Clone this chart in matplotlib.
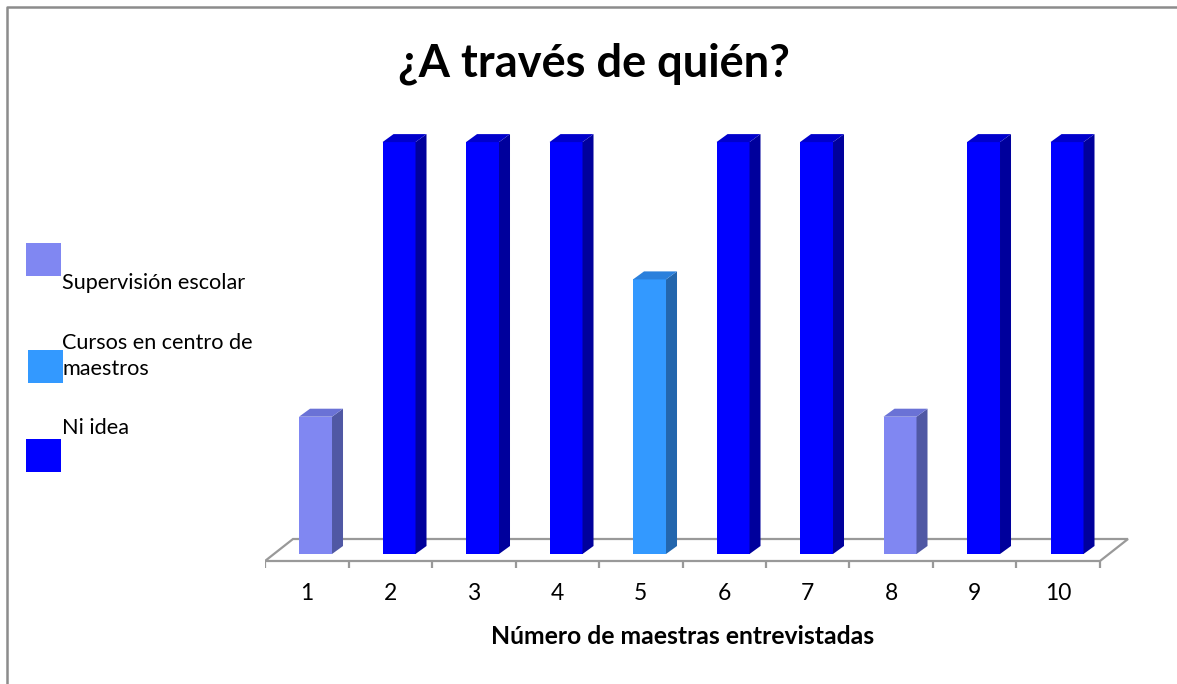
import matplotlib
matplotlib.use("Agg")
import matplotlib.pyplot as plt
from matplotlib.patches import Polygon, Rectangle
from matplotlib.lines import Line2D
import numpy as np

W, H = 1177, 684

# respuestas de cada maestra entrevistada
maestras = [1, 2, 3, 4, 5, 6, 7, 8, 9, 10]
respuestas = ["Supervisión escolar", "Ni idea", "Ni idea", "Ni idea",
              "Cursos en centro de maestros", "Ni idea", "Ni idea",
              "Supervisión escolar", "Ni idea", "Ni idea"]
valores = [1, 3, 3, 3, 2, 3, 3, 1, 3, 3]

series = ["Supervisión escolar", "Cursos en centro de maestros", "Ni idea"]
etiquetas = ["Supervisión escolar", "Cursos en centro de\nmaestros", "Ni idea"]

# frente, lado, tapa
colores = {
    "Supervisión escolar": ("#8087f2", "#5058a4", "#6a72d6"),
    "Cursos en centro de maestros": ("#3399ff", "#2366ad", "#2b80dc"),
    "Ni idea": ("#0000ff", "#00009c", "#0000cc"),
}

FONT = ["Lato", "DejaVu Sans"]
plt.rcParams["font.family"] = FONT

fig = plt.figure(figsize=(W / 100, H / 100), dpi=100)

# escala: 83.5 px por categoria, 137.3 px por unidad
sx, sy = 83.5, 137.3
x_lo, x_hi = 0.5, 10.9
y_lo, y_hi = -0.125, 3.25
left_px, base_px = 265, 554
bot_px = base_px - y_lo * sy
top_px = base_px - y_hi * sy
ax = fig.add_axes([left_px / W, 1 - bot_px / H,
                   (x_hi - x_lo) * sx / W, (bot_px - top_px) / H])
ax.set_xlim(x_lo, x_hi)
ax.set_ylim(y_lo, y_hi)
ax.axis("off")

# piso en perspectiva
fy, by = -7 / sy, 15 / sy
ddx = 28 / sx
piso = Polygon([(0.5, fy), (10.5, fy), (10.5 + ddx, by), (0.5 + ddx, by)],
               closed=True, fill=False, edgecolor="#999999", lw=1.6, zorder=1)
ax.add_patch(piso)
ax.vlines(np.arange(0.5, 11.0, 1.0), -14 / sy, fy, color="#999999", lw=1.6,
          zorder=1)
for m in maestras:
    ax.text(m, -40 / sy, str(m), ha="center", va="center", fontsize=16.5,
            color="#000000")

# barras 3D
off, ancho = 0.105, 0.395
pdx, pdy = 11 / sx, 8 / sy
x = np.array(maestras, dtype=float) + off
frentes = [colores[r][0] for r in respuestas]
ax.bar(x, valores, width=ancho, color=frentes, edgecolor="none", zorder=3)
for xi, v, r in zip(x, valores, respuestas):
    _, lado, tapa = colores[r]
    l, rr = xi - ancho / 2, xi + ancho / 2
    ax.add_patch(Polygon([(rr, 0), (rr + pdx, pdy), (rr + pdx, v + pdy), (rr, v)],
                         closed=True, facecolor=lado, edgecolor="none", zorder=3))
    ax.add_patch(Polygon([(l, v), (rr, v), (rr + pdx, v + pdy), (l + pdx, v + pdy)],
                         closed=True, facecolor=tapa, edgecolor="none", zorder=3))

# titulo y eje
fig.text(594 / W, 1 - 64 / H, "¿A través de quién?", ha="center", va="center",
         fontsize=32.5, fontweight="bold")
fig.text(683 / W, 1 - 637 / H, "Número de maestras entrevistadas", ha="center",
         va="center", fontsize=17.8, fontweight="bold")

# leyenda
cuadros = [(26, 243), (28, 350), (26, 439)]
textos = [(62, 283), (62, 356), (62, 428)]
for s, lab, (cx, cy), (tx, ty) in zip(series, etiquetas, cuadros, textos):
    fig.patches.append(Rectangle((cx / W, 1 - (cy + 33) / H), 35 / W, 33 / H,
                                 transform=fig.transFigure,
                                 facecolor=colores[s][0], edgecolor="none"))
    fig.text(tx / W, 1 - ty / H, lab, ha="left", va="center", fontsize=15.6,
             linespacing=1.36)

# marco
fig.add_artist(Line2D([6.5 / W, 6.5 / W, 1.0], [0.0, 1 - 7 / H, 1 - 7 / H],
                      transform=fig.transFigure, color="#8c8c8c", lw=1.8))

fig.savefig("out.png", dpi=100, facecolor="white")
plt.close(fig)
